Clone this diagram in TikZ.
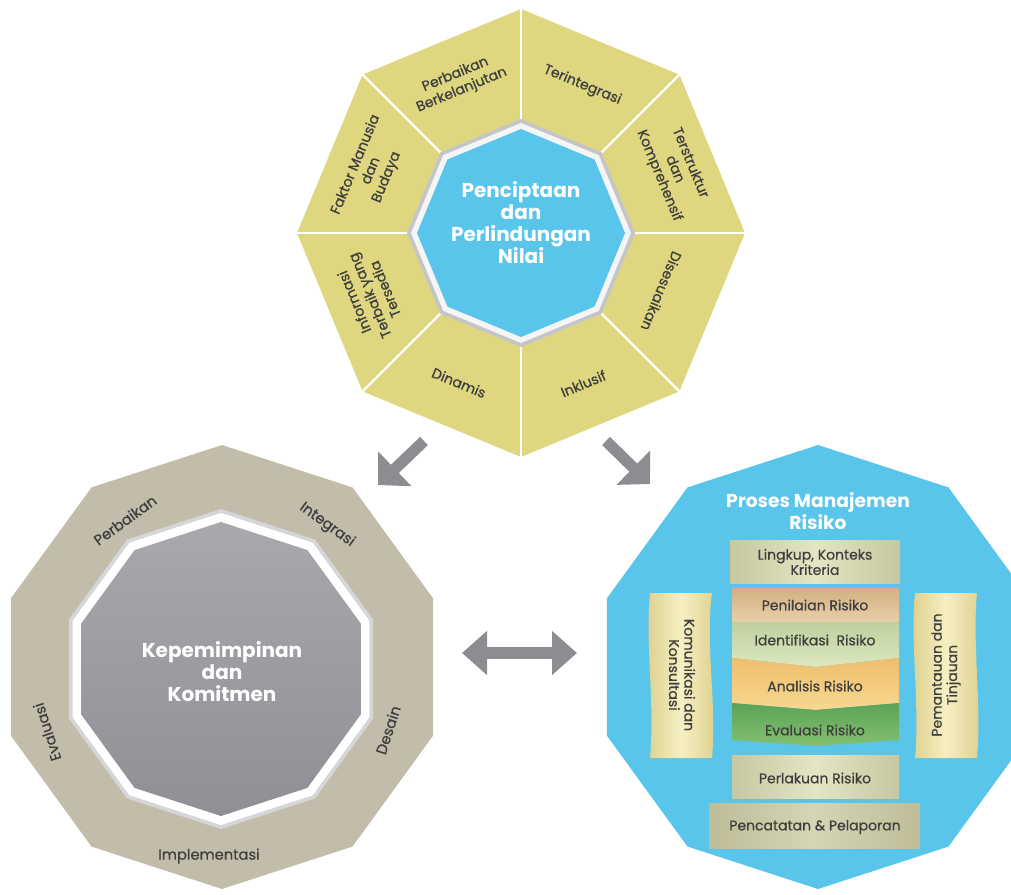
\documentclass[tikz,border=0pt]{standalone}
\usepackage{fontspec}
\setmainfont{Poppins}
\newfontfamily\medfont{Poppins}[FakeBold=0.6]
\usetikzlibrary{arrows.meta,calc}
\definecolor{octyellow}{RGB}{222,215,128}
\definecolor{skyblue}{RGB}{90,197,235}
\definecolor{khaki}{RGB}{193,189,170}
\definecolor{coretop}{RGB}{168,169,173}
\definecolor{corebot}{RGB}{143,144,149}
\definecolor{rimgrey}{RGB}{196,197,200}
\definecolor{arrowgrey}{RGB}{140,140,145}
\definecolor{labeltext}{RGB}{62,62,62}
\definecolor{boxedge}{RGB}{198,200,160}
\definecolor{boxmid}{RGB}{228,229,195}
\definecolor{recedge}{RGB}{190,189,152}
\definecolor{recmid}{RGB}{214,213,180}
\definecolor{peniltop}{RGB}{211,175,132}
\definecolor{penilbot}{RGB}{233,207,166}
\definecolor{identop}{RGB}{190,208,158}
\definecolor{idenbot}{RGB}{220,232,192}
\definecolor{analtop}{RGB}{238,190,110}
\definecolor{analbot}{RGB}{249,216,143}
\definecolor{evaltop}{RGB}{92,163,88}
\definecolor{evalbot}{RGB}{132,192,112}
\definecolor{scrolledge}{RGB}{220,208,142}
\definecolor{scrollmid}{RGB}{246,239,193}
\tikzset{
  seglabel/.style={text=labeltext, font=\medfont\fontsize{10.5}{12.5}\selectfont, align=center, inner sep=0pt},
  ringlabel/.style={text=labeltext, font=\medfont\fontsize{11}{12}\selectfont, inner sep=0pt},
  centertitle/.style={text=white, font=\bfseries\fontsize{15}{16.5}\selectfont, align=center, inner sep=0pt},
  paneltitle/.style={text=white, font=\bfseries\fontsize{14}{14.5}\selectfont, align=center, inner sep=0pt},
  boxtext/.style={text=labeltext, font=\medfont\fontsize{10.5}{11.5}\selectfont, align=center, inner sep=0pt},
  diagarrow/.style={draw=arrowgrey, line width=8.5pt, -{Triangle[length=17.5pt,width=35pt]}},
  dblarrow/.style={draw=arrowgrey, line width=9.5pt, {Triangle[length=18.75pt,width=32pt]}-{Triangle[length=18.75pt,width=32pt]}},
  sepline/.style={draw=white, line width=1.6pt},
}
\begin{document}
\begin{tikzpicture}[x=0.75pt,y=0.75pt]
\useasboundingbox (0,0) rectangle (1011,894);
\clip (0,0) rectangle (1011,894);

% ---------------- top octagon ----------------
\coordinate (O) at (521,661);
\fill[octyellow] ($(O)+(90:224)$) \foreach \a in {135,180,...,405} {-- ($(O)+(\a:224)$)} -- cycle;
\foreach \a in {90,135,...,405} \draw[sepline] ($(O)+(\a:224)$) -- ($(O)+(\a:112)$);
\fill[rimgrey] ($(O)+(90:114)$) \foreach \a in {135,180,...,405} {-- ($(O)+(\a:114)$)} -- cycle;
\fill[white!92!gray] ($(O)+(90:110)$) \foreach \a in {135,180,...,405} {-- ($(O)+(\a:110)$)} -- cycle;
\fill[skyblue] ($(O)+(90:104)$) \foreach \a in {135,180,...,405} {-- ($(O)+(\a:104)$)} -- cycle;
\node[centertitle] (core1) at (521,671) {Penciptaan\\dan\\Perlindungan\\Nilai};

\node[seglabel, rotate=22.5]  (p1) at ($(O)+(112.5:163)$) {Perbaikan\\Berkelanjutan};
\node[seglabel, rotate=-22.5] (p2) at ($(O)+(67.5:160)$) {Terintegrasi};
\node[seglabel, rotate=-67.5] (p3) at ($(O)+(22.5:166)$) {Terstruktur\\dan\\Komprehensif};
\node[seglabel, rotate=-112.5](p4) at ($(O)+(-22.5:152)$) {Disesuaikan};
\node[seglabel, rotate=22.5]  (p5) at ($(O)+(-67.5:163)$) {Inklusif};
\node[seglabel, rotate=-22.5] (p6) at ($(O)+(-112.5:162)$) {Dinamis};
\node[seglabel, rotate=112.5] (p7) at ($(O)+(-157.5:164)$) {Informasi\\Terbaik yang\\Tersedia};
\node[seglabel, rotate=67.5]  (p8) at ($(O)+(157.5:162)$) {Faktor Manusia\\dan\\Budaya};

% ---------------- left decagon ----------------
\coordinate (L) at (222,227);
\coordinate (Li) at (221,225);
\fill[khaki] ($(L)+(90:222)$) \foreach \a in {126,162,...,414} {-- ($(L)+(\a:222)$)} -- cycle;
\fill[rimgrey!70!white] ($(Li)+(90:160)$) \foreach \a in {126,162,...,414} {-- ($(Li)+(\a:160)$)} -- cycle;
\fill[white] ($(Li)+(90:156)$) \foreach \a in {126,162,...,414} {-- ($(Li)+(\a:156)$)} -- cycle;
\path[top color=coretop, bottom color=corebot] ($(Li)+(90:147)$) \foreach \a in {126,162,...,414} {-- ($(Li)+(\a:147)$)} -- cycle;
\node[centertitle] (core2) at (222,222) {Kepemimpinan\\dan\\Komitmen};

\node[ringlabel, rotate=36]  (q1) at (125,374) {Perbaikan};
\node[ringlabel, rotate=-36] (q2) at (327,369) {Integrasi};
\node[ringlabel, rotate=72]  (q3) at (388,164) {Desain};
\node[ringlabel]             (q4) at (209,38)  {Implementasi};
\node[ringlabel, rotate=108] (q5) at (47,162)  {Evaluasi};

% ---------------- right decagon ----------------
\coordinate (R) at (818,227);
\fill[skyblue] ($(R)+(90:222)$) \foreach \a in {126,162,...,414} {-- ($(R)+(\a:222)$)} -- cycle;
\node[paneltitle] (core3) at (818,383) {Proses Manajemen\\Risiko};

% boxes
\path[left color=boxedge, right color=boxedge, middle color=boxmid] (730,354) rectangle (900,311);
\node[boxtext] (b1) at (815,332) {Lingkup, Konteks\\Kriteria};

\path[top color=peniltop, bottom color=penilbot] (732,306) rectangle (899,272);
\node[boxtext] (b2) at (815,289) {Penilaian Risiko};

\path[top color=identop, bottom color=idenbot] (732,272) -- (899,272) -- (899,236) -- (815.5,227) -- (732,236) -- cycle;
\node[boxtext] (b3) at (815,254) {Identifikasi\ \ Risiko};

\path[top color=analtop, bottom color=analbot] (732,236) -- (815.5,227) -- (899,236) -- (899,191) -- (815.5,184) -- (732,191) -- cycle;
\node[boxtext] (b4) at (815,208) {Analisis Risiko};

\path[top color=evaltop, bottom color=evalbot] (732,191) -- (815.5,184) -- (899,191) -- (899,154) -- (815.5,148) -- (732,154) -- cycle;
\node[boxtext] (b5) at (815,164) {Evaluasi Risiko};

\path[left color=boxedge, right color=boxedge, middle color=boxmid] (732,139) rectangle (899,96);
\node[boxtext] (b6) at (815,116) {Perlakuan Risiko};

\path[left color=recedge, right color=recedge, middle color=recmid] (709,91) rectangle (920,46);
\node[boxtext] (b7) at (815,67) {Pencatatan \& Pelaporan};

% side scrolls
\path[left color=scrolledge, right color=scrolledge, middle color=scrollmid]
  (650,301) -- (712,301) .. controls (705,250) and (717,190) .. (712,136)
  -- (650,136) .. controls (655,190) and (645,250) .. (650,301) -- cycle;
\node[boxtext, rotate=-90] (s1) at (682,219) {Komunikasi dan\\Konsultasi};

\path[left color=scrolledge, right color=scrolledge, middle color=scrollmid]
  (915,301) -- (977,301) .. controls (972,250) and (982,190) .. (977,136)
  -- (915,136) .. controls (920,190) and (910,250) .. (915,301) -- cycle;
\node[boxtext, rotate=90] (s2) at (946,219) {Pemantauan dan\\Tinjauan};

% ---------------- arrows ----------------
\coordinate (a1s) at (424,453);
\coordinate (a1e) at (378,409);
\coordinate (a2s) at (606,453);
\coordinate (a2e) at (650,410);
\coordinate (a3s) at (462,241);
\coordinate (a3e) at (577,241);
\draw[diagarrow] (a1s) -- (a1e);
\draw[diagarrow] (a2s) -- (a2e);
\draw[dblarrow] (a3s) -- (a3e);
\end{tikzpicture}
\end{document}
